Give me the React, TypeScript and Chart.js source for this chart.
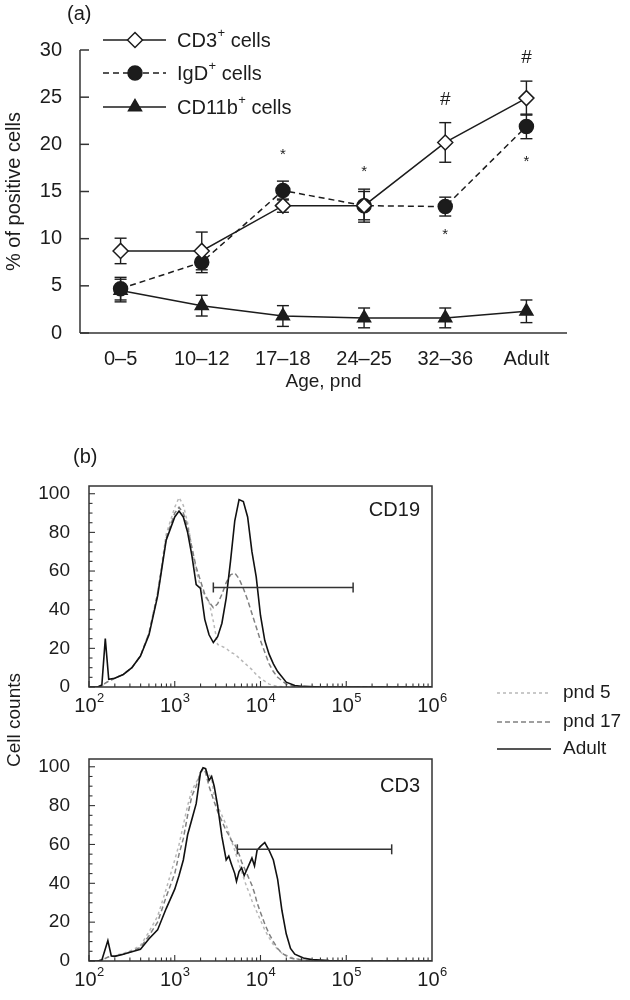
import React, { useEffect, useRef } from 'react';
import { Chart, registerables } from 'chart.js';
import { drawPoint } from 'chart.js/helpers';
Chart.register(...registerables);

const FONT = '"Liberation Sans", Arial, Helvetica, sans-serif';
const INK = '#1c1c1c';

// ---------- Panel (a) data ----------
const ageGroups = ['0–5', '10–12', '17–18', '24–25', '32–36', 'Adult'];
const cd3Pct = [8.7, 8.7, 13.5, 13.5, 20.2, 24.9];
const cd3Err = [1.35, 2.0, 0.7, 1.5, 2.1, 1.8];
const igdPct = [4.7, 7.5, 15.1, 13.5, 13.4, 21.9];
const igdErr = [1.2, 1.1, 1.0, 1.75, 1.0, 1.3];
const cd11bPct = [4.5, 2.9, 1.8, 1.6, 1.6, 2.3];
const cd11bErr = [1.2, 1.1, 1.1, 1.05, 1.05, 1.2];
const starMarks = [null, null, 19.2, 17.4, 10.7, 18.5];
const hashMarks = [null, null, null, null, 24.7, 29.2];
const yTicksA = [0, 5, 10, 15, 20, 25, 30];

// ---------- Panel (b) data (x = log10 fluorescence) ----------
const expTicks = [2, 3, 4, 5, 6];
const cd19Exp = [2.0, 2.1, 2.15, 2.19, 2.23, 2.3, 2.4, 2.5, 2.6, 2.7, 2.8, 2.9, 3.0, 3.05, 3.1, 3.15, 3.2, 3.25, 3.3, 3.35, 3.4, 3.45, 3.5, 3.55, 3.6, 3.65, 3.7, 3.75, 3.8, 3.85, 3.9, 3.95, 4.0, 4.05, 4.1, 4.15, 4.2, 4.3, 4.4, 4.5, 4.7, 5.0, 5.5, 6.0];
const cd19Adult = [0, 0, 1, 25, 4, 4.5, 6.5, 10, 16, 27, 47, 76, 88, 91, 88, 80, 68, 53, 51, 35, 27, 23, 26, 33, 46, 65, 86, 97, 96, 88, 70, 57, 37, 24, 17, 12, 8, 2.5, 0.8, 0.3, 0, 0, 0, 0];
const cd19Pnd17 = [0, 0, 0.5, 2, 3, 4.5, 6.5, 10, 16, 28, 48, 77, 90, 93, 90, 83, 72, 62, 55, 48, 44, 41, 43, 48, 54, 58, 59, 56, 51, 45, 38, 31, 24, 18, 12, 8, 5, 1.5, 0.3, 0, 0, 0, 0, 0];
const cd19Pnd5 = [0, 0, 0.5, 2, 3, 4.5, 6.5, 10, 16, 28, 49, 79, 93, 98, 94, 85, 72, 60, 52, 47, 44, 34, 22, 21, 20, 18, 17, 15, 13, 11, 9, 6.5, 4.5, 3, 1.5, 0.8, 0.3, 0, 0, 0, 0, 0, 0, 0];
const cd19Gate = [3.45, 5.08];
const cd19GateLevel = 51.5;

const cd3Exp = [2.0, 2.1, 2.15, 2.22, 2.26, 2.3, 2.4, 2.5, 2.6, 2.7, 2.8, 2.9, 3.0, 3.05, 3.1, 3.15, 3.2, 3.25, 3.3, 3.33, 3.36, 3.4, 3.43, 3.46, 3.5, 3.55, 3.6, 3.63, 3.66, 3.7, 3.72, 3.75, 3.78, 3.81, 3.84, 3.87, 3.9, 3.93, 3.96, 4.0, 4.05, 4.1, 4.15, 4.2, 4.25, 4.3, 4.35, 4.4, 4.5, 4.6, 4.8, 5.0, 5.5, 6.0];
const cd3Adult = [0, 0, 0.5, 10.5, 2.6, 2.4, 3.5, 4.8, 6, 11.5, 16, 27, 37, 44, 52, 65, 73, 81, 97, 99.5, 99, 93, 95, 90, 80, 64, 52, 54, 50, 45, 41, 46, 48, 44, 47, 50, 53, 49, 57, 59, 61, 57, 52, 42, 26, 14, 6.5, 3.5, 1.5, 0.7, 0.2, 0, 0, 0];
const cd3Pnd17 = [0, 0, 0.5, 2, 2.5, 2.6, 3.5, 5, 7, 13, 20, 33, 45, 55, 63, 75, 85, 90, 97, 99, 97, 90, 86, 82, 77, 72, 67, 65, 62, 60, 58, 55, 51, 48, 45, 42, 39, 35, 30, 25, 19, 14, 10, 6.5, 4, 2.6, 1.5, 1, 0.5, 0.2, 0, 0, 0, 0];
const cd3Pnd5 = [0, 0, 0.5, 2, 2.5, 2.8, 4, 5.5, 8, 15, 23, 37, 52, 60, 70, 80, 88, 92, 96, 99, 98, 96, 94, 85, 80, 75, 70, 66, 62, 57, 54, 50, 46, 42, 38, 35, 31, 28, 25, 21, 16, 12, 8.5, 6, 4, 3, 2, 1.3, 0.6, 0.2, 0, 0, 0, 0];
const cd3Gate = [3.73, 5.53];
const cd3GateLevel = 57.5;

const legendB = ['pnd 5', 'pnd 17', 'Adult'];

// ---------- helpers ----------
function drawSup(ctx: CanvasRenderingContext2D, x: number, y: number, base: string, sup: string, rest: string, size: number, align: 'left' | 'center' | 'right' = 'left') {
  ctx.textBaseline = 'middle';
  ctx.textAlign = 'left';
  const supSize = Math.round(size * 0.66);
  ctx.font = `${size}px ${FONT}`;
  const wb = ctx.measureText(base).width;
  ctx.font = `${supSize}px ${FONT}`;
  const ws = ctx.measureText(sup).width;
  ctx.font = `${size}px ${FONT}`;
  const wr = ctx.measureText(rest).width;
  const total = wb + ws + wr;
  let x0 = x;
  if (align === 'center') x0 = x - total / 2;
  if (align === 'right') x0 = x - total;
  ctx.fillText(base, x0, y);
  ctx.font = `${supSize}px ${FONT}`;
  ctx.fillText(sup, x0 + wb + 0.5, y - size * 0.38);
  ctx.font = `${size}px ${FONT}`;
  ctx.fillText(rest, x0 + wb + ws + 0.5, y);
}

function line(ctx: CanvasRenderingContext2D, x1: number, y1: number, x2: number, y2: number) {
  ctx.beginPath();
  ctx.moveTo(x1, y1);
  ctx.lineTo(x2, y2);
  ctx.stroke();
}

// ---------- Panel (a) ----------
function PanelA() {
  const ref = useRef<HTMLCanvasElement | null>(null);
  useEffect(() => {
    const series = [
      { label: 'CD3', data: cd3Pct, err: cd3Err, style: 'rectRot', fill: '#ffffff', dash: [] as number[], radius: 7.5 },
      { label: 'IgD', data: igdPct, err: igdErr, style: 'circle', fill: INK, dash: [6, 4], radius: 7 },
      { label: 'CD11b', data: cd11bPct, err: cd11bErr, style: 'triangle', fill: INK, dash: [] as number[], radius: 7.5 },
    ];
    const decor = {
      id: 'decorA',
      beforeDatasetsDraw(chart: any) {
        const { ctx } = chart;
        const xs = chart.scales.x, ys = chart.scales.y;
        ctx.save();
        ctx.strokeStyle = INK;
        ctx.lineWidth = 1.4;
        series.forEach((s) => {
          s.data.forEach((v, i) => {
            const px = xs.getPixelForValue(i);
            const t = ys.getPixelForValue(v + s.err[i]);
            const b = ys.getPixelForValue(v - s.err[i]);
            line(ctx, px, t, px, b);
            line(ctx, px - 6, t, px + 6, t);
            line(ctx, px - 6, b, px + 6, b);
          });
        });
        ctx.restore();
      },
      afterDraw(chart: any) {
        const { ctx, chartArea: a } = chart;
        const xs = chart.scales.x, ys = chart.scales.y;
        ctx.save();
        ctx.strokeStyle = '#333';
        ctx.lineWidth = 1.5;
        line(ctx, a.left, a.top, a.left, a.bottom);
        line(ctx, a.left, a.bottom, a.right, a.bottom);
        ys.ticks.forEach((t: any) => {
          const p = ys.getPixelForValue(t.value);
          line(ctx, a.left, p, a.left + 9, p);
        });
        ctx.fillStyle = INK;
        ctx.textAlign = 'center';
        ctx.textBaseline = 'middle';
        starMarks.forEach((v, i) => {
          if (v == null) return;
          ctx.font = `15px ${FONT}`;
          ctx.fillText('*', xs.getPixelForValue(i), ys.getPixelForValue(v) + 3);
        });
        hashMarks.forEach((v, i) => {
          if (v == null) return;
          ctx.font = `19px ${FONT}`;
          ctx.fillText('#', xs.getPixelForValue(i), ys.getPixelForValue(v));
        });
        ctx.font = `20px ${FONT}`;
        ctx.textAlign = 'left';
        ctx.fillText('(a)', 67, 14);
        const rows = [40, 73, 107];
        const names: [string, string, string][] = [['CD3', '+', ' cells'], ['IgD', '+', ' cells'], ['CD11b', '+', ' cells']];
        series.forEach((s, i) => {
          const y = rows[i];
          ctx.strokeStyle = INK;
          ctx.lineWidth = 1.5;
          ctx.setLineDash(s.dash);
          line(ctx, 103, y, 166, y);
          ctx.setLineDash([]);
          ctx.fillStyle = s.fill;
          ctx.strokeStyle = INK;
          ctx.lineWidth = 1.5;
          drawPoint(ctx, { pointStyle: s.style as any, radius: s.radius, rotation: 0, borderWidth: 1.5 } as any, 135, y);
          ctx.fillStyle = INK;
          drawSup(ctx, 177, y + 1, names[i][0], names[i][1], names[i][2], 20);
        });
        ctx.restore();
      },
    };
    const chart = new Chart(ref.current as HTMLCanvasElement, {
      type: 'line',
      data: {
        labels: ageGroups,
        datasets: series.map((s) => ({
          label: s.label,
          data: s.data,
          borderColor: INK,
          borderWidth: 1.5,
          borderDash: s.dash,
          pointStyle: s.style as any,
          pointRadius: s.radius,
          pointBackgroundColor: s.fill,
          pointBorderColor: INK,
          pointBorderWidth: 1.5,
          tension: 0,
          clip: false as any,
        })),
      },
      options: {
        responsive: false,
        animation: false,
        devicePixelRatio: 1,
        layout: { padding: { left: 0, right: 63, top: 50, bottom: 0 } },
        plugins: { legend: { display: false }, tooltip: { enabled: false } },
        scales: {
          x: {
            offset: true,
            grid: { display: false, drawTicks: false },
            border: { display: false },
            ticks: { color: INK, font: { family: FONT, size: 20 }, padding: 14, maxRotation: 0 },
            title: { display: true, text: 'Age, pnd', color: INK, font: { family: FONT, size: 19 }, padding: { top: 0, bottom: 7 } },
            afterFit: (s: any) => { s.height = 67; },
          },
          y: {
            min: 0,
            max: 30,
            grid: { display: false, drawTicks: false },
            border: { display: false },
            afterBuildTicks: (s: any) => { s.ticks = yTicksA.map((v) => ({ value: v })); },
            ticks: { color: INK, font: { family: FONT, size: 20 }, padding: 18 },
            title: { display: true, text: '% of positive cells', color: INK, font: { family: FONT, size: 20 }, padding: { top: 2, bottom: 0 } },
            afterFit: (s: any) => { s.width = 80; },
          },
        },
      },
      plugins: [decor],
    });
    return () => chart.destroy();
  }, []);
  return <canvas ref={ref} width={630} height={400} style={{ position: 'absolute', left: 0, top: 0, width: 630, height: 400 }} />;
}

// ---------- Panel (b) ----------
type HistProps = {
  top: number;
  height: number;
  padTop: number;
  axisH: number;
  exps: number[];
  adult: number[];
  pnd17: number[];
  pnd5: number[];
  gate: number[];
  gateLevel: number;
  name: string;
  nameY: number;
  extras: boolean;
};

function HistPanel(p: HistProps) {
  const ref = useRef<HTMLCanvasElement | null>(null);
  useEffect(() => {
    const pts = (vals: number[]) => p.exps.map((e, i) => ({ x: e, y: vals[i] }));
    const decor = {
      id: 'decorB',
      afterDraw(chart: any) {
        const { ctx, chartArea: a } = chart;
        const xs = chart.scales.x, ys = chart.scales.y;
        ctx.save();
        ctx.strokeStyle = '#333';
        ctx.lineWidth = 1.5;
        ctx.strokeRect(a.left, a.top, a.right - a.left, a.bottom - a.top);
        ctx.lineWidth = 1.1;
        ys.ticks.forEach((t: any) => {
          const py = ys.getPixelForValue(t.value);
          line(ctx, a.left, py, a.left + (t.value % 20 === 0 ? 6 : 3.5), py);
        });
        for (let n = expTicks[0]; n < expTicks[expTicks.length - 1]; n++) {
          for (let k = 1; k <= 9; k++) {
            const px = xs.getPixelForValue(n + Math.log10(k));
            line(ctx, px, a.bottom, px, a.bottom - (k === 1 ? 6 : 3.5));
          }
        }
        ctx.fillStyle = INK;
        expTicks.forEach((n) => {
          drawSup(ctx, xs.getPixelForValue(n), a.bottom + 19, '10', String(n), '', 20, 'center');
        });
        ctx.font = `20px ${FONT}`;
        ctx.textAlign = 'right';
        ctx.textBaseline = 'middle';
        ctx.fillText(p.name, a.right - 12, p.nameY);
        if (p.extras) {
          ctx.textAlign = 'left';
          ctx.font = `20px ${FONT}`;
          ctx.fillText('(b)', 73, 27);
          ctx.save();
          ctx.translate(15, 290);
          ctx.rotate(-Math.PI / 2);
          ctx.textAlign = 'center';
          ctx.font = `19px ${FONT}`;
          ctx.fillText('Cell counts', 0, 0);
          ctx.restore();
          const rows = [263, 292, 319];
          const styles = [
            { c: '#b8b8b8', d: [3, 3] },
            { c: '#808080', d: [5, 3] },
            { c: INK, d: [] as number[] },
          ];
          legendB.forEach((lab, i) => {
            ctx.strokeStyle = styles[i].c;
            ctx.lineWidth = 1.5;
            ctx.setLineDash(styles[i].d);
            line(ctx, 497, rows[i], 551, rows[i]);
            ctx.setLineDash([]);
            ctx.fillStyle = INK;
            ctx.font = `19px ${FONT}`;
            ctx.textAlign = 'left';
            ctx.fillText(lab, 563, rows[i]);
          });
        }
        ctx.restore();
      },
    };
    const chart = new Chart(ref.current as HTMLCanvasElement, {
      type: 'line',
      data: {
        datasets: [
          {
            label: 'gate',
            data: [{ x: p.gate[0], y: p.gateLevel }, { x: p.gate[1], y: p.gateLevel }],
            borderColor: '#333',
            borderWidth: 1.5,
            pointStyle: 'line',
            pointRotation: 90,
            pointRadius: 5,
            pointBorderColor: '#333',
            pointBorderWidth: 1.5,
          },
          { label: 'Adult', data: pts(p.adult), borderColor: '#111', borderWidth: 1.6, pointRadius: 0, tension: 0 },
          { label: 'pnd 17', data: pts(p.pnd17), borderColor: '#808080', borderWidth: 1.5, borderDash: [5, 3], pointRadius: 0, tension: 0 },
          { label: 'pnd 5', data: pts(p.pnd5), borderColor: '#b8b8b8', borderWidth: 1.5, borderDash: [3, 3], pointRadius: 0, tension: 0 },
        ],
      },
      options: {
        responsive: false,
        animation: false,
        devicePixelRatio: 1,
        layout: { padding: { left: 0, right: 198, top: p.padTop, bottom: 0 } },
        plugins: { legend: { display: false }, tooltip: { enabled: false } },
        scales: {
          x: {
            type: 'linear',
            min: 2,
            max: 6,
            grid: { display: false, drawTicks: false },
            border: { display: false },
            ticks: { display: false, stepSize: 1 },
            afterFit: (s: any) => { s.height = p.axisH; },
          },
          y: {
            min: 0,
            max: 104,
            grid: { display: false, drawTicks: false },
            border: { display: false },
            ticks: {
              stepSize: 5,
              includeBounds: false,
              autoSkip: false,
              color: INK,
              padding: 19,
              font: { family: FONT, size: 19 },
              callback: (v: any) => (Number(v) % 20 === 0 ? String(v) : ''),
            },
            afterFit: (s: any) => { s.width = 89; },
          },
        },
      },
      plugins: [decor],
    });
    return () => chart.destroy();
  }, []);
  return <canvas ref={ref} width={630} height={p.height} style={{ position: 'absolute', left: 0, top: p.top, width: 630, height: p.height }} />;
}

export default function App() {
  return (
    <div style={{ position: 'absolute', left: 0, top: 0, width: 630, height: 1000, background: '#ffffff', overflow: 'hidden' }}>
      <PanelA />
      <HistPanel top={430} height={340} padTop={56} axisH={83} exps={cd19Exp} adult={cd19Adult} pnd17={cd19Pnd17} pnd5={cd19Pnd5} gate={cd19Gate} gateLevel={cd19GateLevel} name="CD19" nameY={80} extras={true} />
      <HistPanel top={720} height={280} padTop={39} axisH={39} exps={cd3Exp} adult={cd3Adult} pnd17={cd3Pnd17} pnd5={cd3Pnd5} gate={cd3Gate} gateLevel={cd3GateLevel} name="CD3" nameY={66} extras={false} />
    </div>
  );
}
